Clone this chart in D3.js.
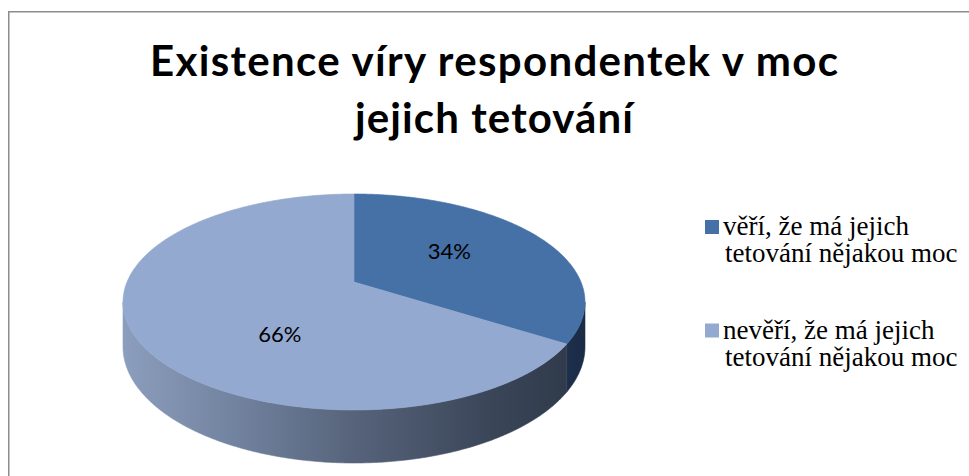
<!DOCTYPE html>
<html>
<head>
<meta charset="utf-8">
<script src="https://cdn.jsdelivr.net/npm/d3@7"></script>
<style>
  body { margin: 0; background: #fff; }
  svg { display: block; }
</style>
</head>
<body>
<div id="chart"></div>
<script>
// data
const titleLines = ["Existence víry respondentek v moc", "jejich tetování"];
const categories = ["věří, že má jejich tetování nějakou moc", "nevěří, že má jejich tetování nějakou moc"];
const legendLines = [["věří, že má jejich", "tetování nějakou moc"], ["nevěří, že má jejich", "tetování nějakou moc"]];
const shares = [34, 66];
const labelTexts = ["34%", "66%"];

var width = 969, height = 476;

// 3d pie geometry (perspective of a tilted disc)
var cx = 354, cy = 282, rx = 227, ry = 104.3, persp = 0.185, depth = 43.2;

function project(theta, r, down) {
    var X = r * Math.sin(theta), Y = -r * Math.cos(theta);
    var w = 1 - persp * Y;
    return [cx + rx * X / w, cy + (ry * Y + down) / w];
}

function rimPoints(t0, t1, down) {
    var n = Math.max(2, Math.ceil(Math.abs(t1 - t0) / 0.01));
    var pts = [];
    for (var i = 0; i <= n; i++) {
        pts.push(project(t0 + (t1 - t0) * i / n, 1, down));
    }
    return pts;
}

var color = d3.scaleOrdinal().domain(categories).range(["#4571a6", "#93a9cf"]);
var pie = d3.pie().sort(null).value(d => d.value);
var slices = pie(categories.map((c, i) => ({name: c, value: shares[i], label: labelTexts[i]})));

var svg = d3.select("#chart").append("svg")
    .attr("width", width)
    .attr("height", height);

// gradients for the side wall
var defs = svg.append("defs");
function sideGradient(id, stops) {
    var g = defs.append("linearGradient").attr("id", id)
        .attr("gradientUnits", "userSpaceOnUse")
        .attr("x1", cx - rx - 4).attr("x2", cx + rx + 4).attr("y1", 0).attr("y2", 0);
    stops.forEach(s => g.append("stop").attr("offset", s[0]).attr("stop-color", s[1]));
}
sideGradient("side0", [[0, "#2a4468"], [0.9, "#1f3555"], [1, "#1a2b45"]]);
sideGradient("side1", [[0, "#8c9ebd"], [0.25, "#71829f"], [0.5, "#56637a"], [0.8, "#3a4558"], [1, "#2e3848"]]);

// chart border
svg.append("rect")
    .attr("x", 8.75).attr("y", 11.75)
    .attr("width", 1000).attr("height", 500)
    .style("fill", "none")
    .style("stroke", "#8c8c8c")
    .style("stroke-width", 1.5);

// title (Calibri is narrower, so stretch spacing to its width)
var titleWidths = [688, 278];
svg.append("g").selectAll("text")
    .data(titleLines)
    .join("text")
    .attr("x", 494)
    .attr("y", (d, i) => 76 + i * 57)
    .attr("text-anchor", "middle")
    .attr("textLength", (d, i) => titleWidths[i])
    .attr("lengthAdjust", "spacing")
    .style("font-family", "Lato, 'Open Sans', sans-serif")
    .style("font-weight", "bold")
    .style("font-size", "42px")
    .style("fill", "#000")
    .text(d => d);

var line = d3.line();
var thetaR = Math.acos(-persp), thetaL = 2 * Math.PI - thetaR;

// side wall (front part only)
var sideG = svg.append("g");
slices.forEach(function (s, i) {
    var t0 = Math.max(s.startAngle, thetaR), t1 = Math.min(s.endAngle, thetaL);
    if (t1 <= t0) return;
    var pts = rimPoints(t0, t1, 0).concat(rimPoints(t1, t0, depth));
    sideG.append("path")
        .attr("d", line(pts) + "Z")
        .style("fill", "url(#side" + i + ")")
        .style("stroke", "url(#side" + i + ")")
        .style("stroke-width", 0.6);
});

// top face
svg.append("g").selectAll("path")
    .data(slices)
    .join("path")
    .attr("d", d => line([[cx, cy]].concat(rimPoints(d.startAngle, d.endAngle, 0))) + "Z")
    .style("fill", d => color(d.data.name))
    .style("stroke", d => color(d.data.name))
    .style("stroke-width", 0.6);

// percentage labels
var labelNudge = [[0, -7], [30, 26]];
svg.append("g").selectAll("text")
    .data(slices)
    .join("text")
    .attr("x", (d, i) => project((d.startAngle + d.endAngle) / 2, 0.5, 0)[0] + labelNudge[i][0])
    .attr("y", (d, i) => project((d.startAngle + d.endAngle) / 2, 0.5, 0)[1] + labelNudge[i][1])
    .attr("dy", "0.35em")
    .attr("text-anchor", "middle")
    .style("font-family", "Lato, 'Open Sans', sans-serif")
    .style("font-size", "22px")
    .style("fill", "#000")
    .text(d => d.data.label);

// legend
var legendY = d3.scaleLinear().domain([0, 1]).range([235, 338.5]);
var legend = svg.append("g").selectAll("g")
    .data(categories)
    .join("g")
    .attr("transform", (d, i) => `translate(705, ${legendY(i)})`);

legend.append("rect")
    .attr("x", 0).attr("y", -15)
    .attr("width", 14).attr("height", 14)
    .style("fill", d => color(d));

legend.append("text")
    .style("font-family", "'Liberation Serif', 'Times New Roman', serif")
    .style("font-size", "27px")
    .style("fill", "#000")
    .selectAll("tspan")
    .data((d, i) => legendLines[i])
    .join("tspan")
    .attr("x", (d, j) => j === 0 ? 18 : 20)
    .attr("y", (d, j) => j * 27)
    .text(d => d);
</script>
</body>
</html>
